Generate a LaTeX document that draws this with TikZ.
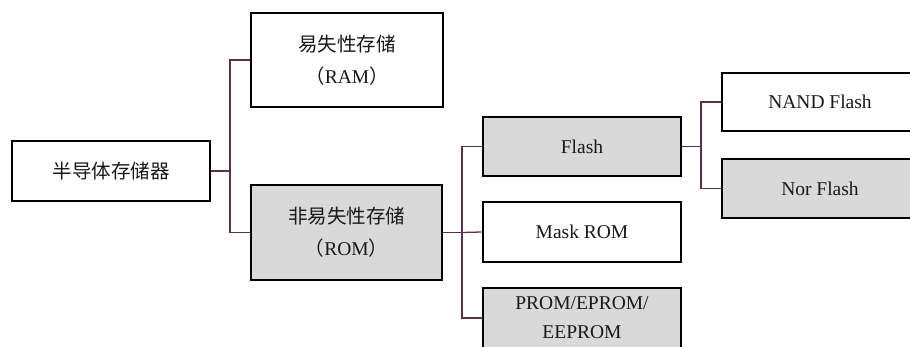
\documentclass[tikz,border=0pt]{standalone}
\usepackage{fontspec}
\setmainfont{Liberation Serif}
\newfontfamily\cjk{Noto Sans CJK SC}
\definecolor{connc}{RGB}{88,48,80}
\definecolor{boxgray}{RGB}{217,217,217}
\definecolor{txt}{RGB}{25,25,25}
\begin{document}
\begin{tikzpicture}[x=1pt,y=-1pt,
  box/.style={draw=black,line width=2.7pt,fill=white,inner sep=0pt,align=center,
    font=\fontsize{19.5}{32}\selectfont,text=txt},
  graybox/.style={box,fill=boxgray},
  conn/.style={draw=connc,line width=1.3pt}]
\useasboundingbox (0,0) rectangle (910,347);
\clip (0,0) rectangle (910,347);
\node[box,minimum width=198pt,minimum height=60pt] (root) at (111,171) {\cjk 半导体存储器};
\node[box,minimum width=192pt,minimum height=94pt] (ram) at (347,60) {\cjk 易失性存储\\{\cjk （}RAM{\cjk ）}};
\node[graybox,minimum width=191pt,minimum height=95pt] (rom) at (346.5,232.5) {\cjk 非易失性存储\\{\cjk （}ROM{\cjk ）}};
\node[graybox,minimum width=198pt,minimum height=59pt] (flash) at (582,146.5) {Flash};
\node[box,minimum width=198pt,minimum height=60pt] (mask) at (582,232) {Mask ROM};
\node[graybox,minimum width=198pt,minimum height=60pt,font=\fontsize{19.5}{29}\selectfont] (prom) at (582,318) {PROM/EPROM/\\EEPROM};
\node[box,minimum width=196pt,minimum height=58pt] (nand) at (820,102) {NAND Flash};
\node[graybox,minimum width=196pt,minimum height=59pt] (nor) at (820,188.5) {Nor Flash};
\coordinate (j1) at (230,0);
\coordinate (j2) at (462,0);
\coordinate (j3) at (701,0);
\draw[conn] (root.east) -- (root.east -| j1) |- (ram.west);
\draw[conn] (root.east -| j1) |- (rom.west);
\draw[conn] (rom.east) -- (rom.east -| j2) |- (flash.west);
\draw[conn] (rom.east -| j2) -- (mask.west);
\draw[conn] (rom.east -| j2) |- (prom.west);
\draw[conn] (flash.east) -- (flash.east -| j3) |- (nand.west);
\draw[conn] (flash.east -| j3) |- (nor.west);
\end{tikzpicture}
\end{document}
